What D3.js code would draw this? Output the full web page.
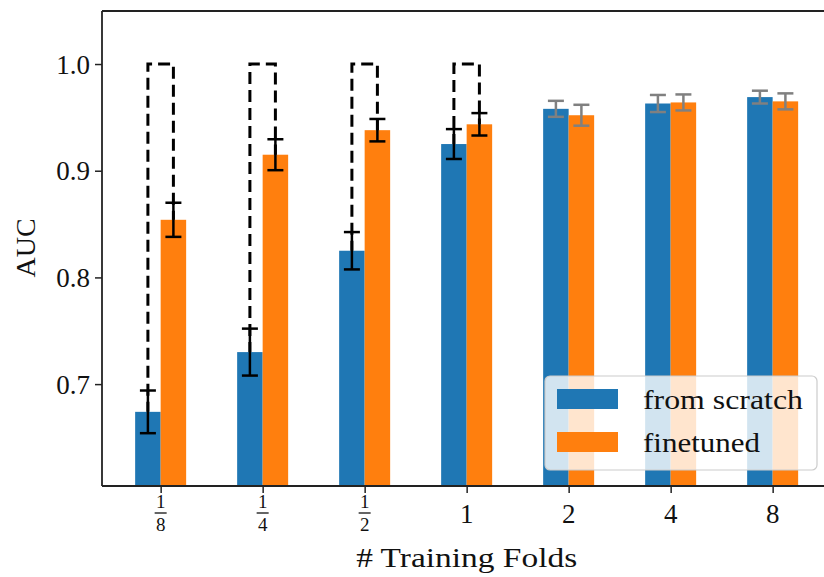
<!DOCTYPE html>
<html>
<head>
<meta charset="utf-8">
<script src="https://cdn.jsdelivr.net/npm/d3@7"></script>
<style>
  html, body { margin: 0; padding: 0; background: #fff; }
  svg text { font-family: 'Liberation Serif', 'Times New Roman', serif; fill: #111; }
</style>
</head>
<body>
<div class="canvas"></div>
<script>
// data
const folds = ['1/8', '1/4', '1/2', '1', '2', '4', '8'];
const scratch = [0.674, 0.730, 0.825, 0.925, 0.958, 0.963, 0.969];
const scratchErr = [0.020, 0.022, 0.0175, 0.014, 0.0075, 0.008, 0.006];
const finetuned = [0.854, 0.915, 0.938, 0.9435, 0.952, 0.964, 0.965];
const finetunedErr = [0.016, 0.0145, 0.0105, 0.0105, 0.0098, 0.0075, 0.0075];
const bracketed = ['1/8', '1/4', '1/2', '1']; // groups with the dashed comparison bracket
const yTicks = [0.7, 0.8, 0.9, 1.0];
const seriesNames = ['from scratch', 'finetuned'];

const dims = {
  width: 824,
  height: 577,
  left: 102,
  top: 11,
  bottom: 486,
  unit: 102,
  barW: 0.25
};

const color = d3.scaleOrdinal().domain(seriesNames).range(['#1f77b4', '#ff7f0e']);

const svg = d3.select('.canvas')
  .append('svg')
  .attr('width', dims.width)
  .attr('height', dims.height);

// scales (x in category-index units like matplotlib)
const x = d3.scaleLinear()
  .domain([-0.575, 6.575])
  .range([dims.left, dims.left + 7.15 * dims.unit]);
const y = d3.scaleLinear()
  .domain([0.6045, 1.0497])
  .range([dims.bottom, dims.top]);

const groups = folds.map((f, i) => ({
  fold: f,
  i: i,
  vals: [
    { key: seriesNames[0], v: scratch[i], e: scratchErr[i], off: -dims.barW / 2 },
    { key: seriesNames[1], v: finetuned[i], e: finetunedErr[i], off: dims.barW / 2 }
  ]
}));

const plot = svg.append('g');

// bars
groups.forEach((g) => {
  plot.selectAll(null)
    .data(g.vals)
    .enter()
    .append('rect')
    .attr('x', (d) => x(g.i + d.off - dims.barW / 2))
    .attr('width', x(dims.barW) - x(0))
    .attr('y', (d) => y(d.v))
    .attr('height', (d) => dims.bottom - y(d.v))
    .attr('fill', (d) => color(d.key));
});

// dashed brackets from the two means up to 1.0
bracketed.forEach((f) => {
  const i = folds.indexOf(f);
  const x1 = x(i - dims.barW / 2);
  const x2 = x(i + dims.barW / 2);
  const path = d3.path();
  path.moveTo(x1, y(scratch[i]));
  path.lineTo(x1, y(1.0));
  path.lineTo(x2, y(1.0));
  path.lineTo(x2, y(finetuned[i]));
  plot.append('path')
    .attr('d', path.toString())
    .attr('fill', 'none')
    .attr('stroke', '#000')
    .attr('stroke-width', 3)
    .attr('stroke-dasharray', '12,6')
    .attr('stroke-dashoffset', 2);
});

// error bars
groups.forEach((g) => {
  const ec = bracketed.includes(g.fold) ? '#000' : '#808080';
  g.vals.forEach((d) => {
    const cx = x(g.i + d.off);
    const eb = plot.append('g')
      .attr('stroke', ec)
      .attr('stroke-width', 2.5);
    eb.append('line')
      .attr('x1', cx).attr('x2', cx)
      .attr('y1', y(d.v - d.e)).attr('y2', y(d.v + d.e));
    [d.v - d.e, d.v + d.e].forEach((v) => {
      eb.append('line')
        .attr('x1', cx - 8).attr('x2', cx + 8)
        .attr('y1', y(v)).attr('y2', y(v));
    });
  });
});

// axes
const yAxis = d3.axisLeft(y).tickValues(yTicks).tickFormat(d3.format('.1f')).tickSize(7).tickPadding(5);
const xAxis = d3.axisBottom(x).tickValues(d3.range(folds.length)).tickFormat(() => '').tickSize(7);

const yAxisGroup = svg.append('g')
  .attr('transform', `translate(${dims.left},0)`)
  .call(yAxis);
yAxisGroup.selectAll('text')
  .attr('font-size', 27)
  .attr('fill', '#111')
  .attr('dy', '0.34em');

const xAxisGroup = svg.append('g')
  .attr('transform', `translate(0,${dims.bottom})`)
  .call(xAxis);

svg.selectAll('.domain').remove();
svg.selectAll('.tick line').attr('stroke', '#222').attr('stroke-width', 1.5);

// spines (left, top, bottom); right spine is outside the picture
const spines = svg.append('g').attr('stroke', '#222').attr('stroke-width', 1.8).attr('fill', 'none');
spines.append('line').attr('x1', dims.left).attr('x2', dims.left).attr('y1', dims.top).attr('y2', dims.bottom);
spines.append('line').attr('x1', dims.left).attr('x2', dims.width).attr('y1', dims.top).attr('y2', dims.top);
spines.append('line').attr('x1', dims.left).attr('x2', dims.width).attr('y1', dims.bottom).attr('y2', dims.bottom);

// x tick labels, fractions stacked
folds.forEach((f, i) => {
  const cx = x(i);
  const parts = f.split('/');
  if (parts.length === 2) {
    const fr = svg.append('g').attr('text-anchor', 'middle');
    fr.append('text').attr('x', cx).attr('y', 508).attr('font-size', 19).text(parts[0]);
    fr.append('line')
      .attr('x1', cx - 6).attr('x2', cx + 6)
      .attr('y1', 513).attr('y2', 513)
      .attr('stroke', '#111').attr('stroke-width', 1.3);
    fr.append('text').attr('x', cx).attr('y', 531).attr('font-size', 19).text(parts[1]);
  } else {
    svg.append('text')
      .attr('x', cx).attr('y', 523)
      .attr('text-anchor', 'middle')
      .attr('font-size', 27)
      .text(f);
  }
});

// axis titles
svg.append('text')
  .attr('x', x(3)).attr('y', 567)
  .attr('text-anchor', 'middle')
  .attr('font-size', 28)
  .attr('textLength', 221)
  .attr('lengthAdjust', 'spacingAndGlyphs')
  .text('# Training Folds');

svg.append('text')
  .attr('transform', `translate(35,248) rotate(-90)`)
  .attr('text-anchor', 'middle')
  .attr('font-size', 28)
  .text('AUC');

// legend
const legend = svg.append('g');
legend.append('rect')
  .attr('x', 545).attr('y', 376)
  .attr('width', 272).attr('height', 94)
  .attr('rx', 5)
  .attr('fill', 'rgba(255,255,255,0.8)')
  .attr('stroke', '#ccc')
  .attr('stroke-width', 1.2);
seriesNames.forEach((name, k) => {
  const top = [389, 432][k];
  legend.append('rect')
    .attr('x', 557).attr('y', top)
    .attr('width', 61).attr('height', 20)
    .attr('fill', color(name));
  legend.append('text')
    .attr('x', 643).attr('y', top + 20)
    .attr('font-size', 28)
    .attr('textLength', [160, 117][k])
    .attr('lengthAdjust', 'spacingAndGlyphs')
    .text(name);
});
</script>
</body>
</html>
